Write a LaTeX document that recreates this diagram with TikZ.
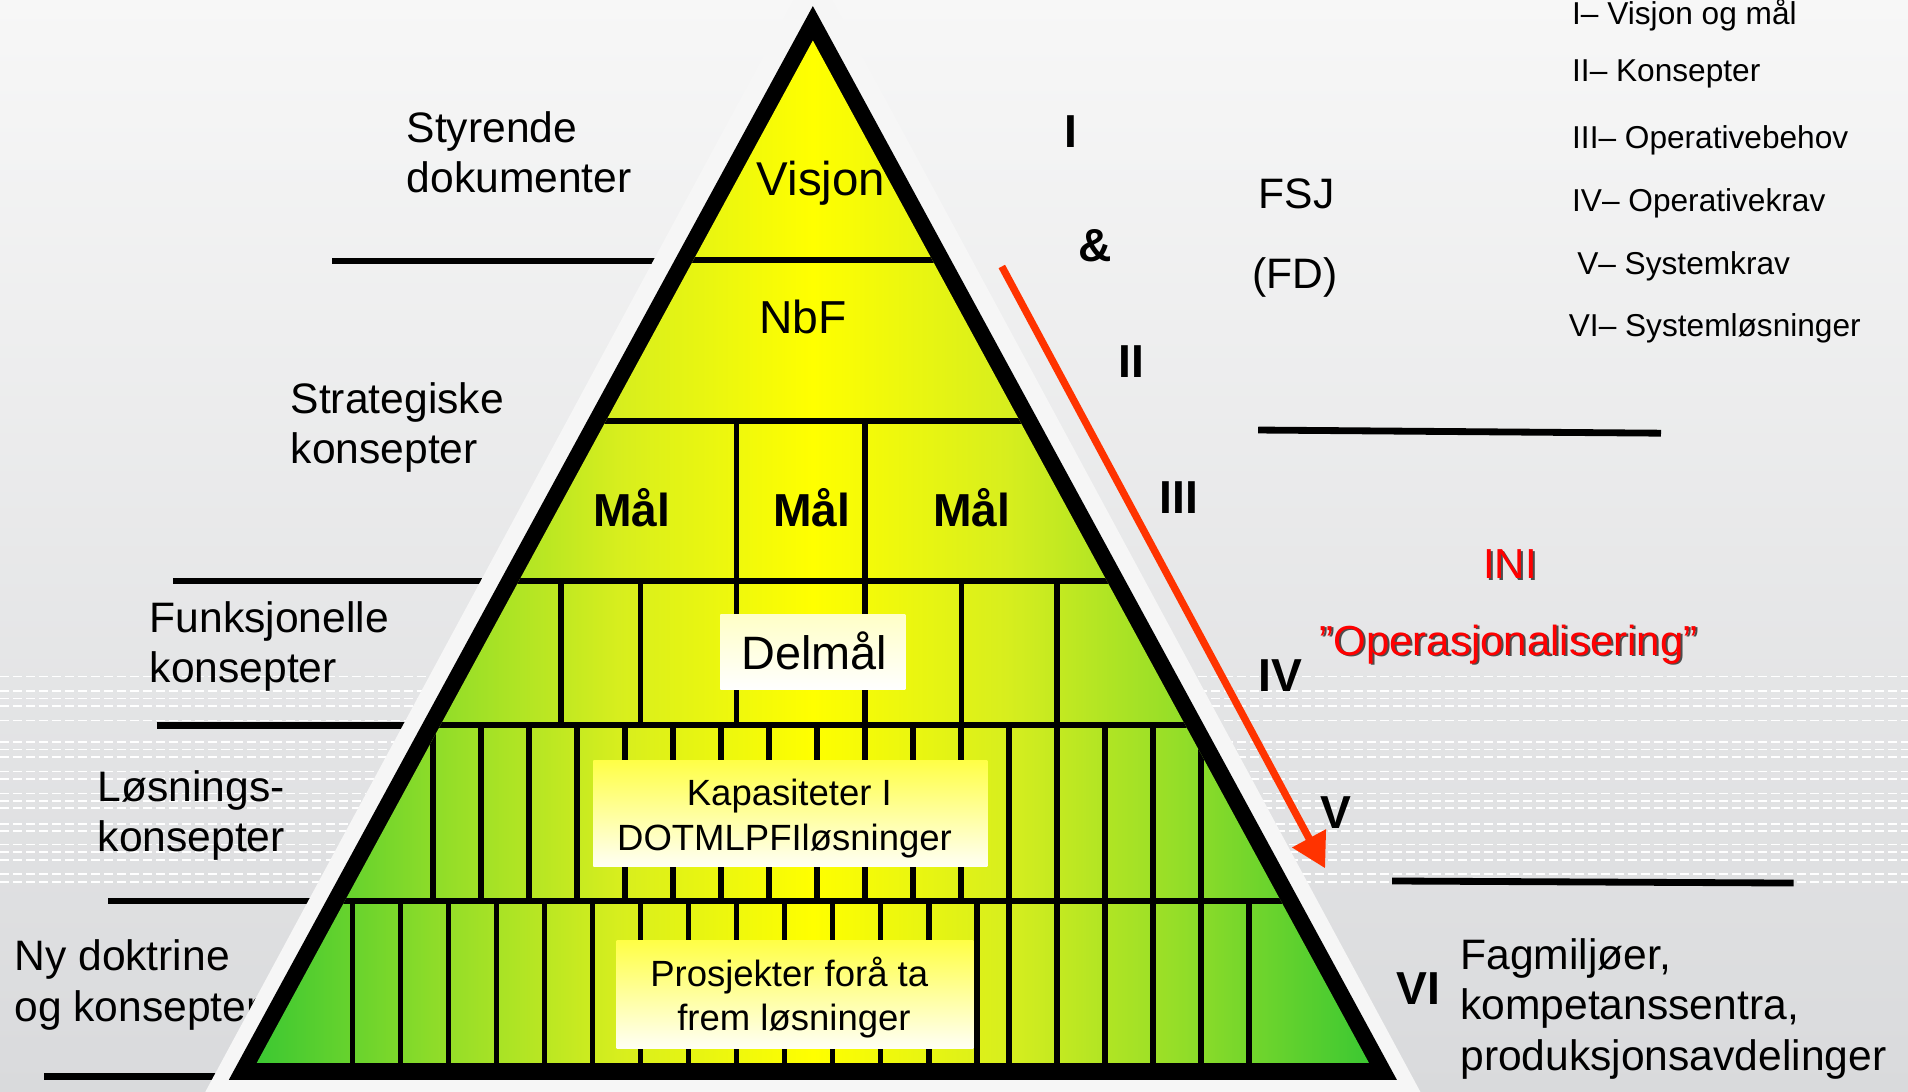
\documentclass[tikz,border=0pt]{standalone}
\usepackage{fontspec}
\setmainfont{Liberation Sans}
\usetikzlibrary{arrows.meta}
\definecolor{bgtop}{RGB}{247,247,247}
\definecolor{bgbot}{RGB}{217,218,220}
\definecolor{halo}{RGB}{246,246,246}
\definecolor{pgA}{RGB}{255,255,0}
\definecolor{pgB}{RGB}{215,238,30}
\definecolor{pgC}{RGB}{150,222,40}
\definecolor{pgD}{RGB}{60,200,50}
\definecolor{arrowred}{RGB}{255,51,0}
\definecolor{boxyel}{RGB}{255,255,70}
\definecolor{txtred}{RGB}{255,0,0}
\pgfdeclarehorizontalshading{pyrshade}{100bp}{color(0bp)=(pgD); color(25bp)=(pgD); color(33.75bp)=(pgC); color(41.25bp)=(pgB); color(50bp)=(pgA); color(58.75bp)=(pgB); color(66.25bp)=(pgC); color(75bp)=(pgD); color(100bp)=(pgD)}
\newcommand\myfs[1]{\fontsize{#1}{#1}\selectfont}
\tikzset{
  lbl/.style={anchor=base west, inner sep=0pt, font={\myfs{17.5pt}}},
  rom/.style={anchor=base, inner sep=0pt, font={\bfseries\myfs{19pt}}},
  leg/.style={anchor=base west, inner sep=0pt, font={\myfs{13pt}}},
  ptxt/.style={anchor=base, inner sep=0pt, font={\myfs{19.25pt}}},
  maltxt/.style={anchor=base, inner sep=0pt, font={\bfseries\myfs{19pt}}},
  boxtxt/.style={anchor=base, inner sep=0pt, font={\myfs{15pt}}},
  redtxt/.style={inner sep=0pt, font={\myfs{17.25pt}}, text=txtred},
  shadtxt/.style={inner sep=0pt, font={\myfs{17.25pt}}, text=black!70},
  tier/.style={line width=2.6pt},
  vln/.style={line width=2.3pt},
  sepline/.style={line width=2.8pt, black},
  dashln/.style={white, line width=0.7pt, dash pattern=on 3.7pt off 1.65pt},
}
\begin{document}
\begin{tikzpicture}[x=0.5pt,y=-0.5pt]
\useasboundingbox (0,0) rectangle (1568,897);
\clip (0,0) rectangle (1568,897);
% background
\shade[top color=bgtop, bottom color=bgbot] (0,0) rectangle (1568,897);
\foreach \yy in {556,568,574,580,592,610,616,622,634,640,652,658,664,677,683,694,700,707,718,725}
  \draw[dashln] (0,\yy) -- (1568,\yy);
% left labels
\node[lbl] (sty1) at (333.8,117.3) {Styrende};
\node[lbl] (sty2) at (333.8,158.3) {dokumenter};
\node[lbl] (str1) at (238.5,339.7) {Strategiske};
\node[lbl] (str2) at (238.5,380.8) {konsepter};
\node[lbl] (fun1) at (122.7,520) {Funksjonelle};
\node[lbl] (fun2) at (122.7,561) {konsepter};
\node[lbl] (los1) at (80,658.8) {Løsnings-};
\node[lbl] (los2) at (80,700) {konsepter};
\node[lbl] (ny1) at (11.5,797.2) {Ny doktrine};
\node[lbl] (ny2) at (11.5,839.6) {og konsepter};
% separator lines
\draw[sepline] (273,214.5) -- (600,214.5);
\draw[sepline] (142,477.5) -- (500,477.5);
\draw[sepline] (128.8,596.4) -- (450,596.4);
\draw[sepline] (89,740.5) -- (400,740.5);
\draw[sepline] (36.4,885) -- (300,885);
\draw[sepline] (1034,353.4) -- (1365,356);
\draw[sepline] (1144,724) -- (1474,725.7);
% pyramid
\fill[halo] (668,-29) -- (156.5,920) -- (1179.5,920) -- cycle;
\fill[black] (668,5) -- (188,887.5) -- (1148,887.5) -- cycle;
\shade[shading=pyrshade] (668,33.3) -- (211,873.5) -- (1125,873.5) -- cycle;
\begin{scope}
\clip (668,33.3) -- (211,873.5) -- (1125,873.5) -- cycle;
\foreach \yy in {213.5,346,477.5,596,740.5}
  \draw[tier] (150,\yy) -- (1200,\yy);
\foreach \xx in {605.4,711}
  \draw[vln] (\xx,346) -- (\xx,477.5);
\foreach \xx in {461.2,526.5,605.4,711,790,868.8}
  \draw[vln] (\xx,477.5) -- (\xx,596);
\foreach \k in {0,...,16}
  \draw[vln] ({355.6+39.45*\k},596) -- ({355.6+39.45*\k},740.5);
\foreach \k in {0,...,13}
  \draw[vln] ({289.8+39.45*\k},740.5) -- ({289.8+39.45*\k},873.5);
\foreach \xx in {829,868.4,907.9,947.3,986.8,1026.2}
  \draw[vln] (\xx,740.5) -- (\xx,873.5);
\end{scope}
% text boxes
\shade[top color=yellow!22!white, bottom color=white] (592,505) rectangle (744,567);
\shade[top color=boxyel, bottom color=white!96!yellow] (487.6,624.6) rectangle (811.4,712.3);
\shade[top color=boxyel, bottom color=white!96!yellow] (506.8,773) rectangle (800,861.5);
% pyramid texts
\node[ptxt, font={\myfs{19.5pt}}] (visjon) at (674.7,160.3) {Visjon};
\node[ptxt, font={\myfs{19pt}}] (nbf) at (660,273.8) {NbF};
\node[maltxt] (mal1) at (519,432.8) {Mål};
\node[maltxt] (mal2) at (667.3,432.8) {Mål};
\node[maltxt] (mal3) at (798.5,432.8) {Mål};
\node[ptxt] (delmal) at (669,550) {Delmål};
\node[boxtxt] (kap1) at (648.7,662) {Kapasiteter I};
\node[boxtxt] (kap2) at (644.7,699) {DOTMLPFIløsninger};
\node[boxtxt] (pro1) at (648.6,810.5) {Prosjekter forå ta};
\node[boxtxt] (pro2) at (652.5,847) {frem løsninger};
% roman numerals
\node[rom] (r1) at (880,121) {I};
\node[rom] (amp) at (900,215) {\&};
\node[rom] (r2) at (929.5,310) {II};
\node[rom] (r3) at (968.6,421.8) {III};
\node[rom] (r4) at (1052,568) {IV};
\node[rom] (r5) at (1098,680.6) {V};
\node[rom] (r6) at (1165.5,825.6) {VI};
\node[lbl] (fsj) at (1034,171) {FSJ};
\node[lbl] (fd) at (1028.8,237) {(FD)};
% legend
\node[leg] (leg1) at (1291.6,20.5) {I– Visjon og mål};
\node[leg] (leg2) at (1291.6,67.1) {II– Konsepter};
\node[leg] (leg3) at (1291.6,121.9) {III– Operativebehov};
\node[leg] (leg4) at (1291.6,174) {IV– Operativekrav};
\node[leg] (leg5) at (1295.8,225.2) {V– Systemkrav};
\node[leg] (leg6) at (1288.9,276.7) {VI– Systemløsninger};
% red texts
\node[shadtxt, anchor=base] (inis) at (1242.6,477.2) {INI};
\node[redtxt, anchor=base] (ini) at (1241,475.6) {INI};
\node[shadtxt, anchor=base west] (opers) at (1085.6,539.9) {”Operasjonalisering”};
\node[redtxt, anchor=base west] (oper) at (1084,538.3) {”Operasjonalisering”};
% bottom right
\node[lbl] (fag1) at (1199.7,796.6) {Fagmiljøer,};
\node[lbl] (fag2) at (1199.7,838) {kompetanssentra,};
\node[lbl] (fag3) at (1199.7,880) {produksjonsavdelinger};
% red arrow
\coordinate (arrS) at (823.3,219);
\coordinate (arrE) at (1089,713.6);
\draw[arrowred, line width=3pt, -{Triangle[length=14pt,width=15pt]}] (arrS) -- (arrE);
\end{tikzpicture}
\end{document}
